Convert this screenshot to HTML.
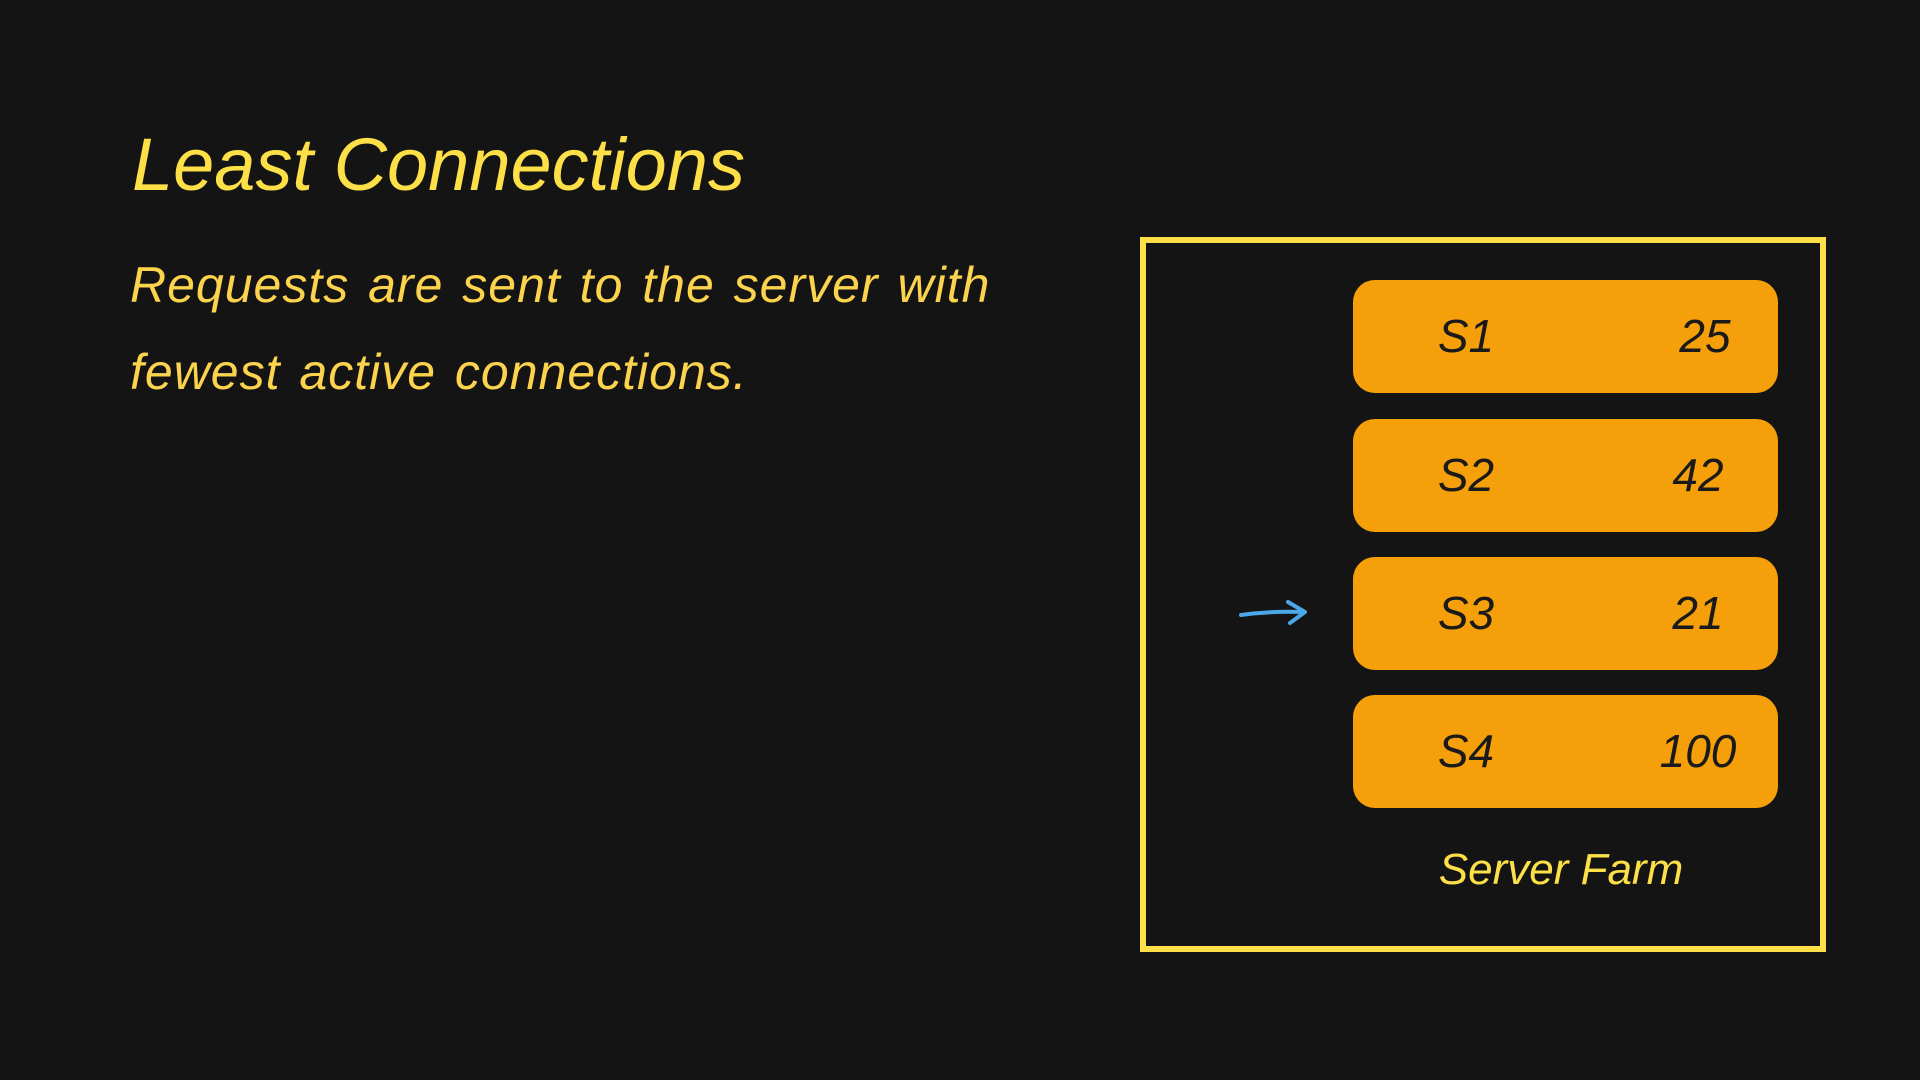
<!DOCTYPE html>
<html><head><meta charset="utf-8"><style>
html,body{margin:0;padding:0;background:#141414;width:1920px;height:1080px;overflow:hidden;font-family:"Liberation Sans",sans-serif;}
.t{position:absolute;color:#fde047;font-style:italic;white-space:nowrap;}
.box{position:absolute;left:1140px;top:237px;width:674px;height:703px;border:6px solid #fde047;}
.row{position:absolute;left:1353px;width:425px;height:113px;background:#f59f0a;border-radius:22px;}
.row span{position:absolute;top:0;line-height:113px;font-size:46px;font-style:italic;color:#1a1a1a;transform:translateX(-50%);}
</style></head><body>
<div class="t" style="left:132px;top:122px;font-size:74px;">Least Connections</div>
<div class="t" style="left:130px;top:256px;font-size:50px;color:#fcd34d;letter-spacing:1px;word-spacing:4px;">Requests are sent to the server with</div>
<div class="t" style="left:130px;top:343px;font-size:50px;color:#fcd34d;letter-spacing:1px;word-spacing:4px;">fewest active connections.</div>
<div class="box"></div>
<div class="row" style="top:280px"><span style="left:113px">S1</span><span style="left:352px">25</span></div>
<div class="row" style="top:419px"><span style="left:113px">S2</span><span style="left:345px">42</span></div>
<div class="row" style="top:557px"><span style="left:113px">S3</span><span style="left:345px">21</span></div>
<div class="row" style="top:695px"><span style="left:113px">S4</span><span style="left:345px">100</span></div>
<div class="t" style="left:1561px;top:845px;font-size:44px;transform:translateX(-50%);">Server Farm</div>
<svg style="position:absolute;left:0;top:0" width="1920" height="1080">
<path d="M1241 615 Q1270 611 1302 612" stroke="#4aa8e8" stroke-width="4" fill="none" stroke-linecap="round"/>
<path d="M1288 602 L1305 612 L1290 623" stroke="#4aa8e8" stroke-width="4" fill="none" stroke-linecap="round" stroke-linejoin="round"/>
</svg>
</body></html>
